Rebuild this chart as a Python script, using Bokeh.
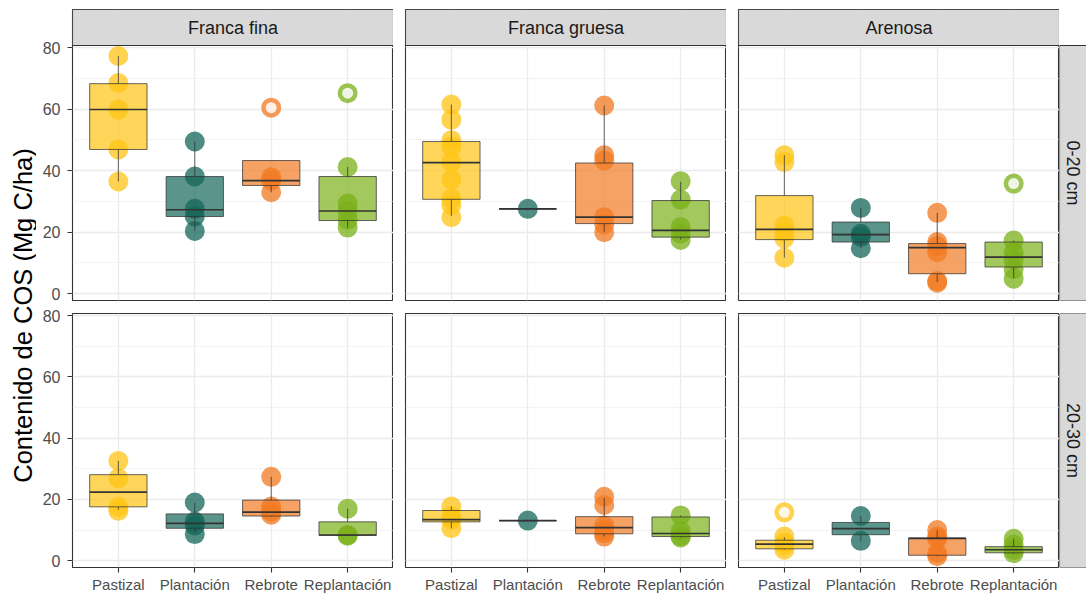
import math
from bokeh.plotting import figure
from bokeh.models import Range1d, FixedTicker, GridBox
from bokeh.core.properties import value
from bokeh.embed import file_html
from bokeh.resources import INLINE

# ---------------------------------------------------------------- data
categories = ["Pastizal", "Plantación", "Rebrote", "Replantación"]
textures = ["Franca fina", "Franca gruesa", "Arenosa"]
depths = ["0-20 cm", "20-30 cm"]
colors = ["#FFC414", "#146659", "#F27A22", "#7AB01A"]
y_ticks = [0, 20, 40, 60, 80]
y_minor = [10, 30, 50, 70]
y_title = "Contenido de COS (Mg C/ha)"

# soil organic carbon per sample (Mg C/ha), one list per land use
fina_0_20_pts = [[77.3, 68.5, 59.9, 46.9, 36.5], [49.5, 38.1, 27.6, 25.1, 20.4],
                 [37.9, 36.8, 33.0], [41.2, 29.3, 27.0, 24.0, 21.5]]
gruesa_0_20_pts = [[61.5, 56.6, 49.9, 47.8, 42.8, 37.1, 30.9, 28.8, 24.9], [27.6],
                   [61.2, 45.0, 43.3, 24.9, 22.5, 20.0], [36.6, 30.6, 21.7, 19.5, 17.5]]
arenosa_0_20_pts = [[45.0, 42.8, 22.2, 20.0, 18.0, 11.7], [27.9, 19.5, 18.5, 14.8],
                    [26.3, 16.8, 15.5, 13.5, 4.1, 3.6], [17.3, 13.5, 11.0, 8.0, 4.9]]
fina_20_30_pts = [[32.6, 26.9, 17.6, 16.3], [19.0, 12.8, 11.5, 8.7],
                  [27.4, 17.7, 16.0, 15.0], [17.0, 8.4, 8.2]]
gruesa_20_30_pts = [[17.7, 14.5, 13.4, 10.6], [13.1],
                    [20.9, 18.2, 11.5, 10.0, 9.0, 7.9], [14.8, 9.8, 8.0, 7.6]]
arenosa_20_30_pts = [[7.9, 6.0, 5.0, 3.6], [14.6, 6.5],
                     [10.0, 7.9, 7.2, 2.5, 1.5], [7.2, 5.2, 3.5, 2.5]]

# samples lying beyond the whiskers
fina_0_20_out = [[], [], [60.5], [65.2]]
gruesa_0_20_out = [[], [], [], []]
arenosa_0_20_out = [[], [], [], [35.8]]
fina_20_30_out = [[], [], [], []]
gruesa_20_30_out = [[], [], [], []]
arenosa_20_30_out = [[15.8], [], [], []]

# box summaries: lower whisker, Q1, median, Q3, upper whisker
fina_0_20_box = [[36.5, 46.9, 59.9, 68.3, 77.3], [20.4, 25.1, 27.3, 38.1, 49.5],
                 [33.0, 35.2, 36.8, 43.3, 43.3], [21.5, 23.8, 26.9, 38.1, 41.2]]
gruesa_0_20_box = [[25.2, 30.7, 42.6, 49.5, 61.5], [27.6, 27.6, 27.6, 27.6, 27.6],
                   [20.0, 22.8, 24.9, 42.5, 61.2], [17.6, 18.4, 20.6, 30.3, 36.4]]
arenosa_0_20_box = [[11.7, 17.6, 20.9, 31.9, 45.0], [14.8, 16.8, 19.2, 23.3, 27.9],
                    [3.8, 6.5, 15.0, 16.3, 26.3], [5.0, 8.7, 11.9, 16.8, 17.3]]
fina_20_30_box = [[16.6, 17.6, 22.4, 28.1, 32.6], [9.3, 10.6, 12.2, 15.3, 18.9],
                  [14.4, 14.6, 15.9, 19.8, 27.4], [8.2, 8.3, 8.4, 12.7, 17.0]]
gruesa_20_30_box = [[10.6, 12.7, 13.4, 16.4, 17.7], [13.1, 13.1, 13.1, 13.1, 13.1],
                    [7.9, 8.8, 10.8, 14.4, 20.5], [7.6, 7.9, 8.9, 14.3, 14.8]]
arenosa_20_30_box = [[3.6, 3.9, 5.4, 6.7, 7.7], [6.5, 8.5, 10.5, 12.5, 14.6],
                     [1.5, 1.8, 7.3, 7.4, 10.0], [2.3, 2.6, 3.6, 4.6, 7.2]]

panels = [
    [(fina_0_20_pts, fina_0_20_box, fina_0_20_out),
     (gruesa_0_20_pts, gruesa_0_20_box, gruesa_0_20_out),
     (arenosa_0_20_pts, arenosa_0_20_box, arenosa_0_20_out)],
    [(fina_20_30_pts, fina_20_30_box, fina_20_30_out),
     (gruesa_20_30_pts, gruesa_20_30_box, gruesa_20_30_out),
     (arenosa_20_30_pts, arenosa_20_30_box, arenosa_20_30_out)],
]

# ---------------------------------------------------------------- style
FONT_NAME = "Liberation Sans"
FONT = value(FONT_NAME)
INK = "#333333"
GRID = "#EBEBEB"
STRIP = "#D9D9D9"
Y_LO, Y_HI = -2.2, 80.7
LABEL_W = 36          # column holding the y title
AXIS_W = 36           # room for the y tick labels
PANEL_W = 321
PANEL_H = [255, 254]
STRIP_H = 36          # facet title band above the first row
STRIP_W = 27          # facet title band right of the last column
TOP_PAD = 9
GAP_X = 12
GAP_Y_ABOVE = 6       # lower border of the first row
GAP_Y_BELOW = 7       # upper border of the second row
XAXIS_H = 27
BOX_HALF = 0.375
UNITS_PER_PX = (Y_HI - Y_LO) / PANEL_H[0]

# every figure of a grid row shares the same top/bottom borders
ROW_FRAME_H = [PANEL_H[0] + STRIP_H, PANEL_H[1]]
ROW_TOP = [TOP_PAD, GAP_Y_BELOW]
ROW_BOTTOM = [GAP_Y_ABOVE, XAXIS_H]


def base_fig(**kw):
    f = figure(toolbar_location=None, output_backend="svg", title=None,
               min_border=0, **kw)
    f.border_fill_color = "white"
    return f


def make_panel(pts, box, outl, r, c):
    # first-row panels carry their facet title band on top of the data area
    top = Y_HI + (STRIP_H * UNITS_PER_PX if r == 0 else 0)
    f = base_fig(frame_width=PANEL_W, frame_height=ROW_FRAME_H[r],
                 x_range=Range1d(0.4, 4.6), y_range=Range1d(Y_LO, top),
                 x_axis_location="below" if r == 1 else None,
                 y_axis_location="left" if c == 0 else None,
                 min_border_left=AXIS_W if c == 0 else GAP_X,
                 min_border_top=ROW_TOP[r], min_border_bottom=ROW_BOTTOM[r])
    f.background_fill_color = "white"
    f.outline_line_color = INK
    f.outline_line_width = 1.1

    f.xgrid.ticker = FixedTicker(ticks=[1, 2, 3, 4])
    f.xgrid.grid_line_color = GRID
    f.xgrid.grid_line_width = 1.3
    f.ygrid.ticker = FixedTicker(ticks=y_ticks, minor_ticks=y_minor)
    f.ygrid.grid_line_color = GRID
    f.ygrid.grid_line_width = 1.3
    f.ygrid.minor_grid_line_color = GRID
    f.ygrid.minor_grid_line_width = 0.6

    for ax in f.xaxis:
        ax.ticker = FixedTicker(ticks=[1, 2, 3, 4])
        ax.major_label_overrides = {i + 1: cat for i, cat in enumerate(categories)}
        ax.major_label_text_font_size = "15px"
        ax.major_label_standoff = 3
    for ax in f.yaxis:
        ax.ticker = FixedTicker(ticks=y_ticks)
        ax.major_label_text_font_size = "16px"
        ax.major_label_standoff = 7
    for ax in list(f.xaxis) + list(f.yaxis):
        ax.axis_line_color = None
        ax.major_tick_line_color = INK
        ax.major_tick_line_width = 1.1
        ax.major_tick_in = 0
        ax.major_tick_out = 5
        ax.minor_tick_line_color = None
        ax.major_label_text_font = FONT_NAME
        ax.major_label_text_color = "#4D4D4D"

    for i, (vals, stats, extra, col) in enumerate(zip(pts, box, outl, colors)):
        x = i + 1
        lo, q1, med, q3, hi = stats
        # samples
        f.scatter([x] * len(vals), vals, size=20, fill_color=col, fill_alpha=0.75,
                  line_color=None)
        if extra:
            f.scatter([x] * len(extra), extra, size=20, fill_color=col,
                      fill_alpha=0.75, line_color=None)
        # whiskers
        f.segment([x, x], [lo, q3], [x, x], [q1, hi], line_color=INK,
                  line_width=1, line_alpha=0.75)
        # box
        f.quad(left=[x - BOX_HALF], right=[x + BOX_HALF], bottom=[q1], top=[q3],
               fill_color=col, fill_alpha=0.7, line_color=INK, line_width=1,
               line_alpha=0.75)
        # median
        f.segment([x - BOX_HALF], [med], [x + BOX_HALF], [med], line_color=INK,
                  line_width=1.7)
        # open centre of the outliers
        if extra:
            f.scatter([x] * len(extra), extra, size=11, fill_color="white",
                      fill_alpha=0.85, line_color=None)

    if r == 0:
        f.quad(left=[0.4], right=[4.6], bottom=[Y_HI], top=[top],
               fill_color=STRIP, line_color=INK, line_width=1.1)
        f.text(x=[2.5], y=[(Y_HI + top) / 2], text=[textures[c]],
               text_align="center", text_baseline="middle", text_font=FONT,
               text_font_size="18px", text_color="#1A1A1A")
    return f


def make_side_strip(label, r):
    # band covers only the data area; the part above the first row stays blank
    band_top = 1.0
    span = ROW_FRAME_H[r] / PANEL_H[r]
    s = base_fig(frame_width=STRIP_W, frame_height=ROW_FRAME_H[r],
                 x_range=Range1d(0, 1), y_range=Range1d(0, span),
                 x_axis_location=None, y_axis_location=None,
                 min_border_top=ROW_TOP[r], min_border_bottom=ROW_BOTTOM[r])
    s.grid.visible = False
    s.background_fill_color = "white"
    s.outline_line_color = None
    s.quad(left=[0], right=[3], bottom=[0], top=[band_top], fill_color=STRIP,
           line_color=INK, line_width=1.1)
    s.text(x=[0.5], y=[band_top / 2], text=[label], angle=-math.pi / 2,
           text_align="center", text_baseline="middle", text_font=FONT,
           text_font_size="18px", text_color="#1A1A1A")
    return s


total_h = sum(ROW_FRAME_H) + sum(ROW_TOP) + sum(ROW_BOTTOM)
ylab = base_fig(frame_width=LABEL_W, frame_height=total_h,
                x_range=Range1d(0, LABEL_W), y_range=Range1d(0, total_h),
                x_axis_location=None, y_axis_location=None)
ylab.grid.visible = False
ylab.outline_line_color = None
panel_top = TOP_PAD + STRIP_H
panel_bottom = total_h - XAXIS_H
ylab.text(x=[22], y=[total_h - (panel_top + panel_bottom) / 2], text=[y_title],
          angle=math.pi / 2, text_align="center", text_baseline="middle",
          text_font=FONT, text_font_size="25.5px", text_color="black")

children = [(ylab, 0, 0, 2, 1)]
for r in range(2):
    for c in range(3):
        pts, box, outl = panels[r][c]
        children.append((make_panel(pts, box, outl, r, c), r, c + 1))
    children.append((make_side_strip(depths[r], r), r, 4))

layout = GridBox(children=children, spacing=0)

open("out.html", "w").write(file_html(layout, INLINE))
